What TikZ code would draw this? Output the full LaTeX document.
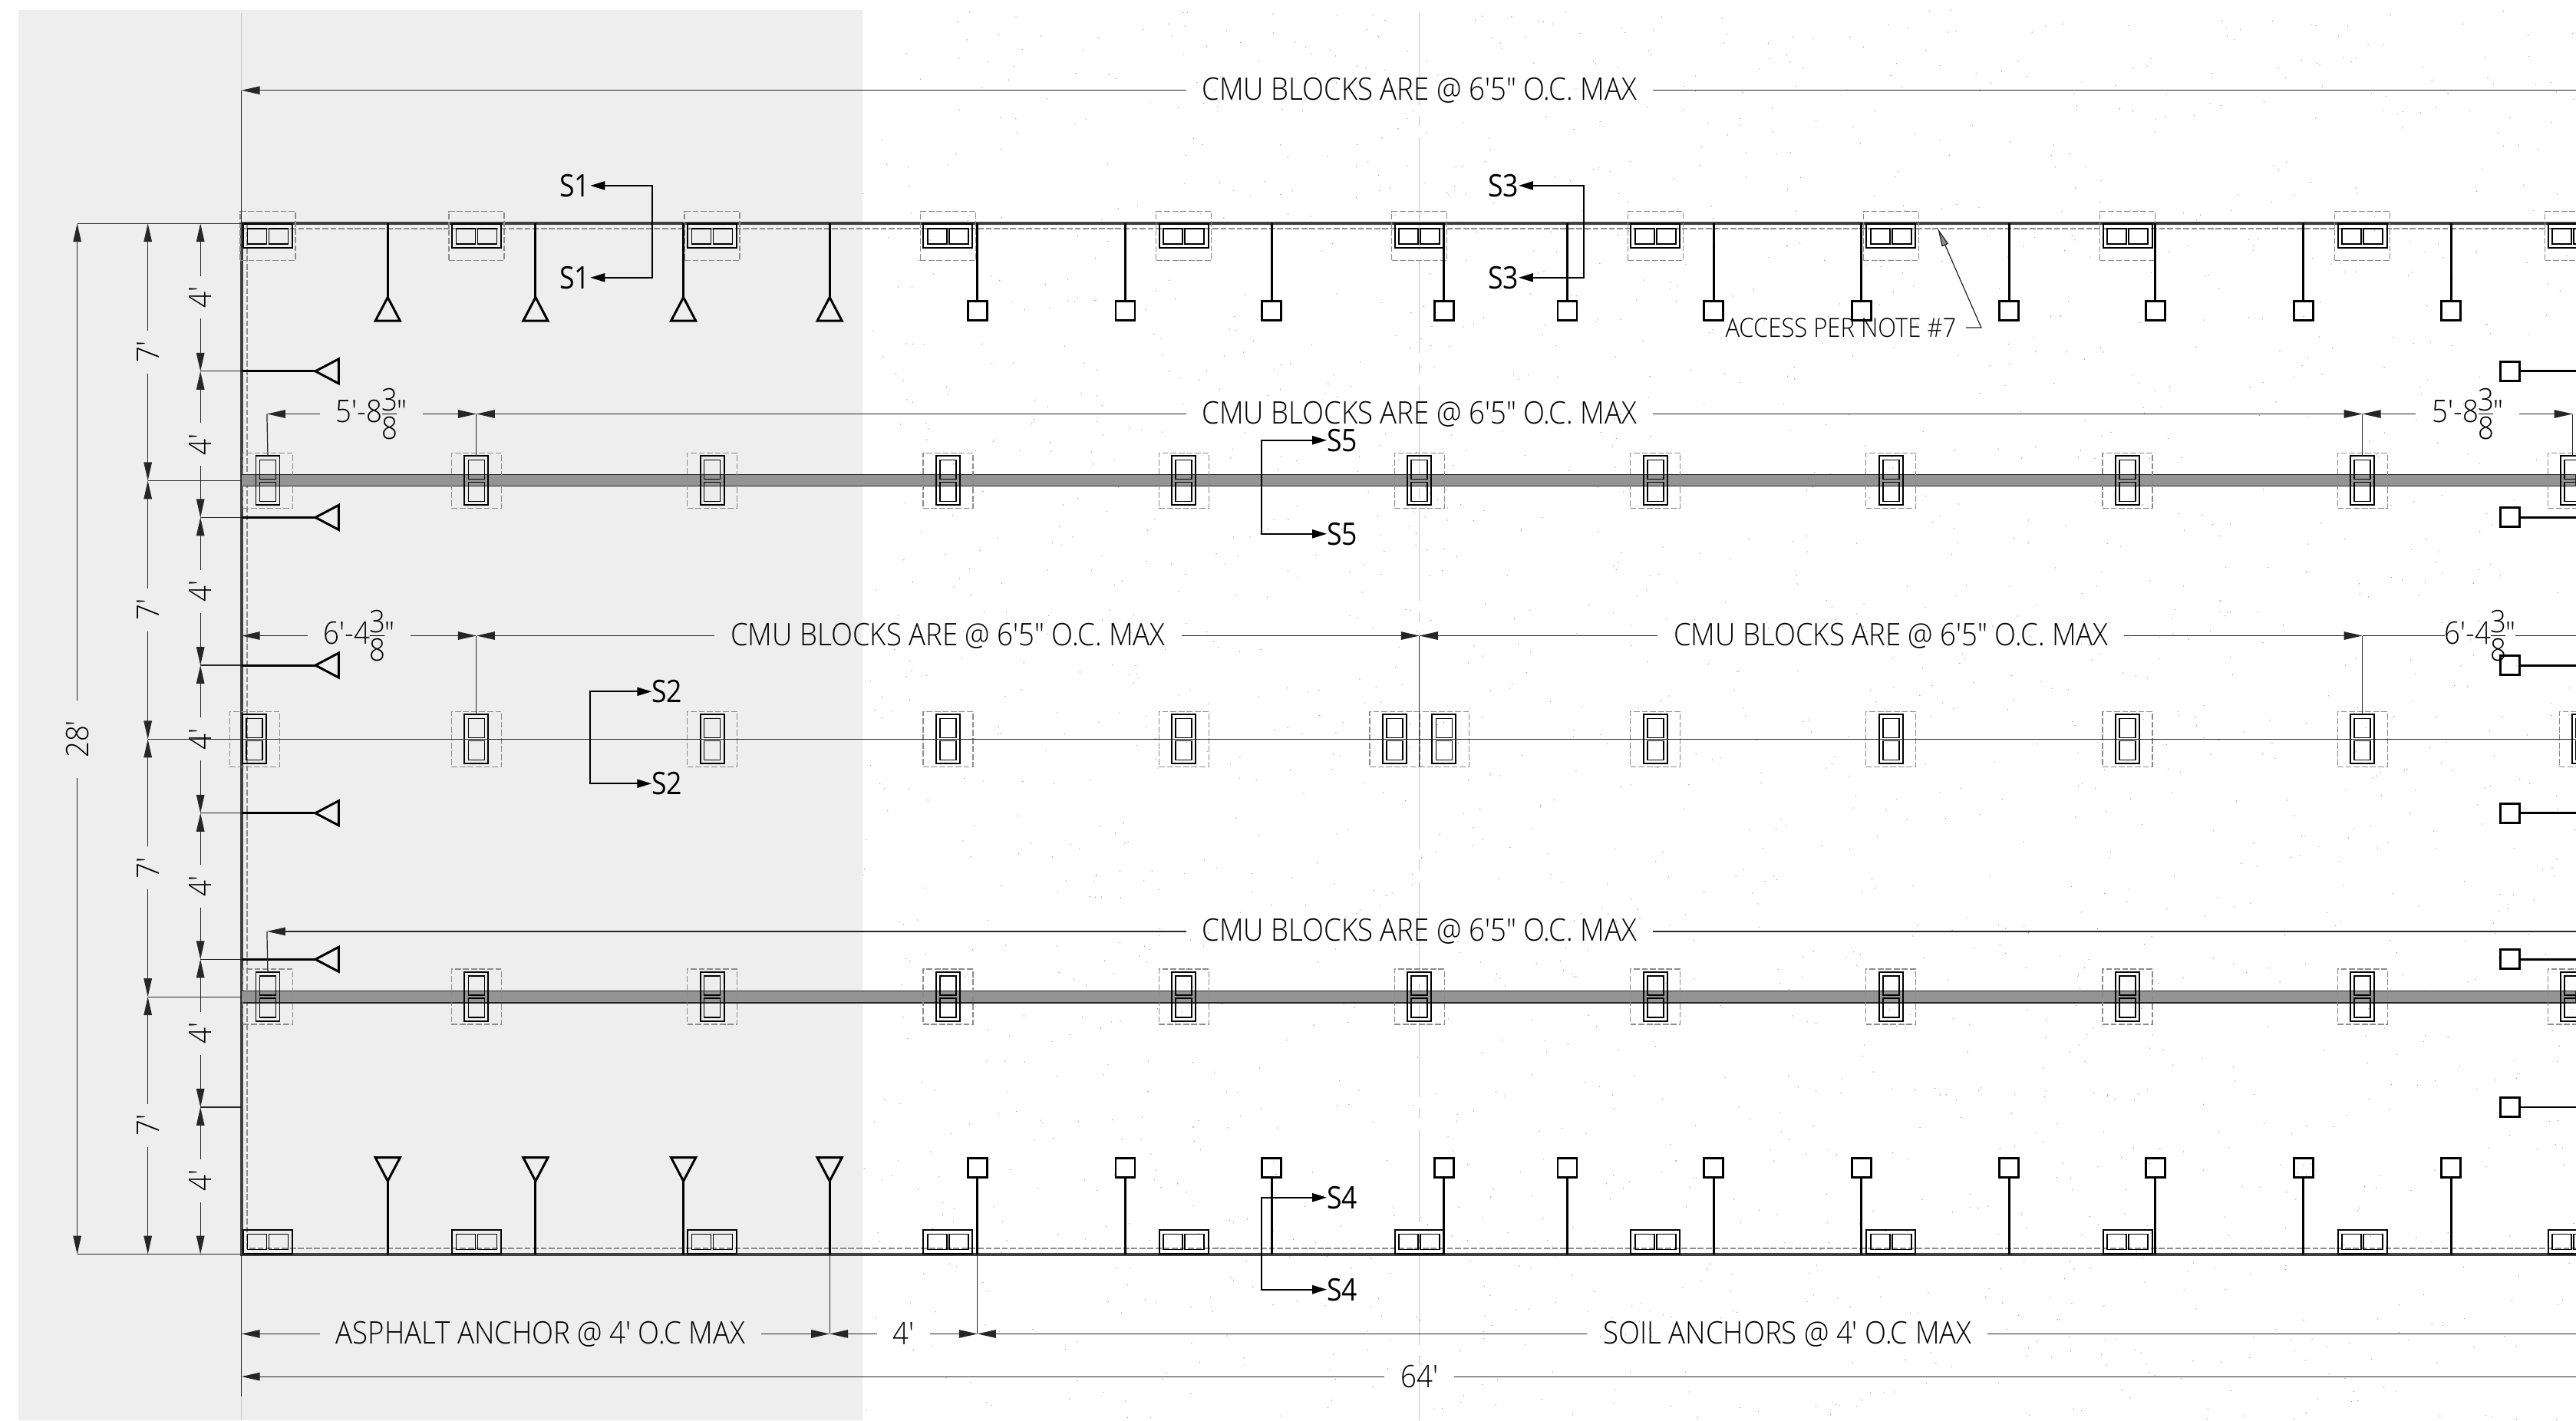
\documentclass[tikz,border=0pt]{standalone}
\usepackage{amsmath}
\usepackage{fontspec}
\usetikzlibrary{arrows.meta}
\newfontfamily\cadfont[FakeStretch=0.905]{Open Sans Light}
\newfontfamily\secfont[FakeStretch=0.88]{Open Sans}
\newcommand{\threeeighths}{\ensuremath{\vcenter{\offinterlineskip\hbox{\makebox[1.9mm]{3}}\vskip0.3mm\hrule height 0.25pt\vskip0.3mm\hbox{\makebox[1.9mm]{8}}}}}
\newcommand{\hblock}[3]{\node[outerbox,minimum width=6.4mm,minimum height=3.1mm](#1) at (#2,#3) {};
  \node[innerbox,minimum width=2.5mm,minimum height=2mm,xshift=-1.4mm](#1l) at (#1) {};
  \node[innerbox,minimum width=2.5mm,minimum height=2mm,xshift=1.4mm](#1r) at (#1) {}}
\newcommand{\vblock}[3]{\node[outerbox,minimum width=3.1mm,minimum height=6.4mm](#1) at (#2,#3) {};
  \node[innerbox,minimum width=2.1mm,minimum height=2.5mm,yshift=1.45mm](#1u) at (#1) {};
  \node[innerbox,minimum width=2.1mm,minimum height=2.5mm,yshift=-1.45mm](#1d) at (#1) {};
  \node[dashbox,minimum width=6.5mm,minimum height=7.2mm](#1o) at (#1) {}}
\newcommand{\hdim}[7]{\coordinate(#1a) at (#2,#4); \coordinate(#1b) at (#3,#4);
  \node[dimtext](#1) at (#5,#4) {\raisebox{-0.35mm}{#6}}; #7}
\newcommand{\secmark}[6]{\node[seclabel](#1a) at (#3,#5) {#2}; \node[seclabel](#1b) at (#3,#6) {#2};
  \coordinate(#1p) at (#4,#5); \coordinate(#1q) at (#4,#6);
  \draw[secline] (#1a) -- (#1p) -- (#1q) -- (#1b)}
\begin{document}
\begin{tikzpicture}[
    x=0.21409mm,y=-0.21409mm,
    outerbox/.style={rectangle,draw=black,line width=0.55pt,inner sep=0pt,outer sep=0pt},
    innerbox/.style={rectangle,draw=black,line width=0.5pt,inner sep=0pt,outer sep=0pt},
    dashbox/.style={rectangle,draw=black!45,line width=0.4pt,dash pattern=on 2.2pt off 0.8pt,inner sep=0pt,outer sep=0pt},
    anchorbox/.style={rectangle,draw=black,line width=0.8pt,minimum size=2.5mm,inner sep=0pt,outer sep=0pt},
    stem/.style={draw=black,line width=0.85pt},
    wall/.style={draw=black!75,line width=1.2pt},
    walldash/.style={draw=black!45,line width=0.45pt,dash pattern=on 2.2pt off 0.8pt},
    walldots/.style={draw=white,line width=0.4pt,dash pattern=on 0.4pt off 6pt},
    band/.style={fill=black!42,draw=black!85,line width=0.4pt},
    centerline/.style={draw=black!22,line width=0.35pt,dash pattern=on 34pt off 4pt on 4pt off 4pt},
    dimline/.style={draw=black!85,line width=0.35pt,>={Triangle[length=2.4mm,width=1.05mm]}},
    extline/.style={draw=black!85,line width=0.35pt},
    dimtext/.style={font=\cadfont\fontsize{11.5}{13}\selectfont,inner xsep=2.1mm,inner ysep=0pt,outer sep=0pt,text=black},
    vtext/.style={dimtext,rotate=90,inner xsep=1.4mm},
    notetext/.style={font=\cadfont\fontsize{9.75}{11}\selectfont,inner sep=0pt,outer sep=0pt,text=black},
    seclabel/.style={font=\secfont\fontsize{11.5}{13}\selectfont,inner sep=0pt,outer sep=0pt},
    secline/.style={draw=black,line width=0.6pt,<->,>={Triangle[length=1.9mm,width=1.1mm]}},
    speckle/.style={fill=black!40},
  ]
  \useasboundingbox (0,0) rectangle (1568,864.6);
  % ground
  \fill[black!6.5] (11,6) rectangle (525,864.6);
  \pgfmathsetseed{7}
  \foreach \i in {1,...,2200} {\fill[speckle] ({525+rnd*1043},{6+rnd*858}) circle (0.34);}
  \coordinate (nw) at (147,136);
  \coordinate (sw) at (147,763.5);
  \coordinate (ne) at (1568,136);
  \coordinate (se) at (1568,763.5);
  \coordinate (cltop) at (864,8);
  \coordinate (clbot) at (864,864.6);
  \coordinate (lltop) at (147,8);
  \coordinate (llbot) at (147,864.6);
  \draw[centerline] (lltop) -- (llbot);
  \draw[centerline] (cltop) -- (clbot);
  % walls and bands
  \draw[walldash] (150.4,136) -- (150.4,760) -- (1568,760);
  \draw[walldash] (147,139.3) -- (1568,139.3);
  \draw[wall] (ne) -- (nw) -- (sw) -- (se);
  \draw[walldots] (148.2,137.6) -- (1568,137.6);
  \draw[walldots] (148.2,762) -- (1568,762);
  \draw[walldots] (148.4,137.6) -- (148.4,762);
  \fill[band] (147,289) rectangle (1568,296);
  \fill[band] (147,603.2) rectangle (1568,610.4);
  % blocks
  \foreach \x [count=\i] in {163,290,433.5,577,720.6,864,1007.6,1151,1295,1438,1566} {
    \hblock{t\i}{\x}{143.7};
    \node[dashbox,minimum width=7.2mm,minimum height=6.4mm](t\i o) at (t\i) {};
    \vblock{u\i}{\x}{292.6};
    \vblock{w\i}{\x}{606.8};
    \hblock{b\i}{\x}{756};
  }
  \foreach \x [count=\i] in {155,290,433.5,577,720.6,849,879,1007.6,1151,1295,1438,1573} {
    \vblock{m\i}{\x}{450};
  }
  % anchors
  \foreach \x in {236,326,416,505} {
    \draw[stem] (\x,136) -- (\x,181);
    \draw[stem] (\x,181) -- (\x-7.5,195.3) -- (\x+7.5,195.3) -- cycle;
    \draw[stem] (\x,763.5) -- (\x,719);
    \draw[stem] (\x,719) -- (\x-7.5,704.7) -- (\x+7.5,704.7) -- cycle;
  }
  \foreach \y in {226,315,405,495,584} {
    \draw[stem] (147,\y) -- (192,\y);
    \draw[stem] (192,\y) -- (206.2,\y-7.5) -- (206.2,\y+7.5) -- cycle;
  }
  \foreach \x [count=\i] in {595,685,774,879,954,1043,1133,1223,1312,1402,1492} {
    \node[anchorbox](ta\i) at (\x,189) {};
    \draw[stem] (ta\i) -- (ta\i |- nw);
    \node[anchorbox](ba\i) at (\x,711) {};
    \draw[stem] (ba\i) -- (ba\i |- sw);
  }
  \foreach \y [count=\i] in {226,315,405,495,584,674} {
    \node[anchorbox](ra\i) at (1528,\y) {};
    \draw[stem] (ra\i) -- (ra\i -| ne);
  }
  % vertical dimensions
  \coordinate (oa) at (47,136);
  \coordinate (ob) at (47,763.5);
  \node[vtext,inner xsep=2.6mm](overall) at (47,450) {28'};
  \draw[dimline,->] (overall) -- (oa);
  \draw[dimline,->] (overall) -- (ob);
  \draw[extline] (oa) -- (nw);
  \draw[extline] (ob) -- (sw);
  \foreach \ya/\yb [count=\i] in {136/292.6,292.6/450,450/606.8,606.8/763.5} {
    \coordinate (sa\i) at (90,\ya);
    \coordinate (sb\i) at (90,\yb);
    \node[vtext](s\i) at (90,{(\ya+\yb)/2}) {7'};
    \draw[dimline,->] (s\i) -- (sa\i);
    \draw[dimline,->] (s\i) -- (sb\i);
  }
  \draw[extline] (sb1) -- (nw |- sb1);
  \draw[extline] (sb2) -- (sb2 -| ne);
  \draw[extline] (sb3) -- (nw |- sb3);
  \foreach \ya/\yb [count=\i] in {136/226,226/315,315/405,405/495,495/584,584/674,674/763.5} {
    \coordinate (fa\i) at (122,\ya);
    \coordinate (fb\i) at (122,\yb);
    \node[vtext](f\i) at (122,{(\ya+\yb)/2}) {4'};
    \draw[dimline,->] (f\i) -- (fa\i);
    \draw[dimline,->] (f\i) -- (fb\i);
    \ifnum\i<7 \draw[extline] (fb\i) -- (nw |- fb\i); \fi
  }
  % horizontal dimensions
  \hdim{cmua}{147}{1568}{55}{864}{CMU BLOCKS ARE @ 6'5" O.C. MAX}{\draw[dimline,->] (cmua) -- (cmuaa); \draw[dimline] (cmua) -- (cmuab);};
  \draw[extline] (cmuaa) -- (nw);
  \hdim{cl}{162.5}{290}{252}{226}{5'-8\threeeighths"}{\draw[dimline,->] (cl) -- (cla); \draw[dimline,->] (cl) -- (clb);};
  \hdim{cmub}{290}{1438}{252}{864}{CMU BLOCKS ARE @ 6'5" O.C. MAX}{\draw[dimline,->] (cmub) -- (cmuba); \draw[dimline,->] (cmub) -- (cmubb);};
  \hdim{cr}{1438}{1566}{252}{1502}{5'-8\threeeighths"}{\draw[dimline,->] (cr) -- (cra); \draw[dimline,->] (cr) -- (crb);};
  \draw[extline] (cla) -- (u1.north);
  \draw[extline] (clb) -- (u2.north);
  \draw[extline] (cmubb) -- (u10.north);
  \draw[extline] (crb) -- (u11.north);
  \hdim{dl}{147}{290}{387}{218.5}{6'-4\threeeighths"}{\draw[dimline,->] (dl) -- (dla); \draw[dimline,->] (dl) -- (dlb);};
  \hdim{cmuc}{290}{864}{387}{577}{CMU BLOCKS ARE @ 6'5" O.C. MAX}{\draw[dimline,->] (cmuc) -- (cmuca); \draw[dimline,->] (cmuc) -- (cmucb);};
  \hdim{cmud}{864}{1438}{387}{1151}{CMU BLOCKS ARE @ 6'5" O.C. MAX}{\draw[dimline,->] (cmud) -- (cmuda); \draw[dimline,->] (cmud) -- (cmudb);};
  \coordinate (drb) at (1568,387);
  \node[dimtext,inner xsep=0pt](dr) at (1509.5,387) {\raisebox{-0.35mm}{6'-4\threeeighths"}};
  \draw[dimline] (dr) -- (cmudb);
  \draw[dimline] (dr) -- (drb);
  \draw[extline] (dlb) -- (m2.north);
  \draw[extline] (cmucb) -- (cmucb |- m7o.south);
  \draw[extline] (cmudb) -- (m11.north);
  \hdim{cmue}{162.5}{1568}{567}{864}{CMU BLOCKS ARE @ 6'5" O.C. MAX}{\draw[dimline,->] (cmue) -- (cmuea); \draw[dimline] (cmue) -- (cmueb);};
  \draw[extline] (cmuea) -- (w1.north);
  \hdim{asph}{147}{505}{812}{329}{ASPHALT ANCHOR @ 4' O.C MAX}{\draw[dimline,->] (asph) -- (aspha); \draw[dimline,->] (asph) -- (asphb);};
  \hdim{gap}{505}{595}{812}{550}{4'}{\draw[dimline,->] (gap) -- (gapa); \draw[dimline,->] (gap) -- (gapb);};
  \hdim{soil}{595}{1568}{812}{1088}{SOIL ANCHORS @ 4' O.C MAX}{\draw[dimline,->] (soil) -- (soila); \draw[dimline] (soil) -- (soilb);};
  \hdim{total}{147}{1568}{838}{864}{64'}{\draw[dimline,->] (total) -- (totala); \draw[dimline] (total) -- (totalb);};
  \coordinate (extsw) at (147,850);
  \draw[extline] (sw) -- (extsw);
  \draw[extline] (asphb) -- (asphb |- sw);
  \draw[extline] (gapb) -- (gapb |- sw);
  % section marks
  \secmark{sa}{S1}{350}{397}{113}{169};
  \secmark{sb}{S2}{406}{359}{421}{477};
  \secmark{sc}{S3}{915}{964}{113}{169};
  \secmark{sd}{S4}{817}{768}{729}{785};
  \secmark{se}{S5}{817}{768}{268}{325};
  % note
  \node[notetext](note) at (1120.5,199.5) {ACCESS PER NOTE \#7};
  \coordinate (notebend) at (1206,199.5);
  \coordinate (notetip) at (1179.5,139);
  \draw[dimline,->,>={Triangle[length=2.4mm,width=0.9mm,fill=black!45]}] (note.east) ++(6,0) coordinate (noteend) -- (notebend) -- (notetip);
\end{tikzpicture}
\end{document}
